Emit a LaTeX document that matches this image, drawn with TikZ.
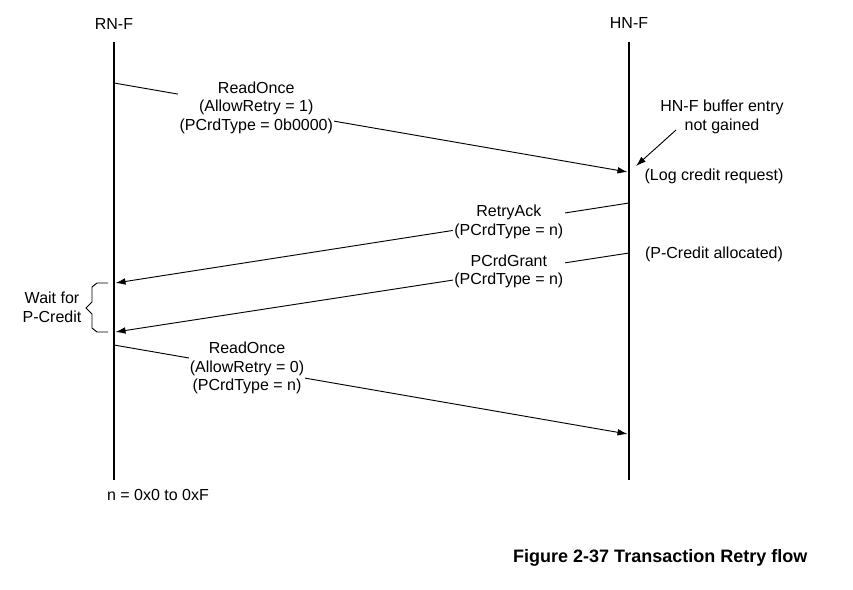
\documentclass[tikz,border=0pt]{standalone}
\usepackage{fontspec}
\setmainfont{Liberation Sans}
\usetikzlibrary{arrows.meta}

\tikzset{
  life/.style={line width=2.2pt},
  msg/.style={-{Latex[length=7.5pt,width=5pt]}, line width=0.7pt},
  lbl/.style={fill=white, inner sep=1pt, align=center, font=\fontsize{12}{14}\selectfont},
  txt/.style={align=center, font=\fontsize{12}{14}\selectfont}
}

\begin{document}
\begin{tikzpicture}[x=0.75pt,y=-0.75pt]
		\useasboundingbox (0,0) rectangle (853,589);
		% Heads of the lifelines
		\node[txt] (rn) at (114,24) {RN-F};
		\node[txt] (hn) at (629,23) {HN-F};
		\coordinate (rntop) at (114,42);
		\coordinate (hntop) at (629,42);
		\coordinate (rnend) at (114,480);
		\coordinate (hnend) at (629,480);
		% Draw the lifelines
		\draw[life] (rntop) -- (rnend);
		\draw[life] (hntop) -- (hnend);
		% Points where the messages leave and arrive
		\coordinate (r1) at (114,83);
		\coordinate (h1) at (627.5,172);
		\coordinate (h2) at (629,203);
		\coordinate (r2) at (115.5,283);
		\coordinate (h3) at (629,253);
		\coordinate (r3) at (115.5,332);
		\coordinate (r4) at (114,345);
		\coordinate (h4) at (627.5,434);
		% Draw the messages
		\draw[msg] (r1) -- (h1) node[lbl, pos=0.277] (m1) {ReadOnce\\(AllowRetry = 1)\\(PCrdType = 0b0000)};
		\draw[msg] (h2) -- (r2) node[lbl, pos=0.234] (m2) {RetryAck\\(PCrdType = n)};
		\draw[msg] (h3) -- (r3) node[lbl, pos=0.234] (m3) {PCrdGrant\\(PCrdType = n)};
		\draw[msg] (r4) -- (h4) node[lbl, pos=0.259] (m4) {ReadOnce\\(AllowRetry = 0)\\(PCrdType = n)};
		% Notes at HN-F
		\node[txt] (gain) at (722,117) {HN-F buffer entry\\not gained};
		\coordinate (g1) at (676,130);
		\coordinate (g2) at (636,166);
		\draw[msg] (g1) -- (g2);
		\node[txt] (log) at (714,176) {(Log credit request)};
		\node[txt] (alloc) at (714,254) {(P-Credit allocated)};
		% Brace at RN-F
		\draw[line width=0.7pt] (108,283) -- (97,283) -- (92,287) -- (92,302) -- (86,308) -- (92,314) -- (92,328) -- (97,332) -- (108,332);
		\node[txt] (wait) at (52,307) {Wait for\\P-Credit};
		\node[txt] (nval) at (158,495) {n = 0x0 to 0xF};
		\node[font=\fontsize{13.5}{16}\selectfont\bfseries, anchor=east] (cap) at (812,558) {Figure 2-37 Transaction Retry flow};
\end{tikzpicture}
\end{document}
